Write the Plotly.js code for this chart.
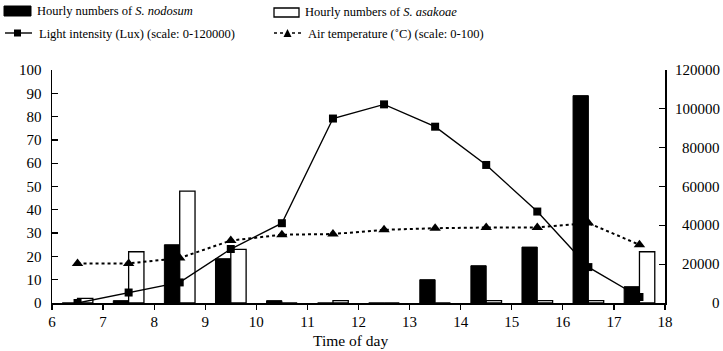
<!DOCTYPE html>
<html>
<head>
<meta charset="utf-8">
<script src="https://cdn.plot.ly/plotly-3.0.1.min.js"></script>
<style>html,body{margin:0;padding:0;background:#fff;}#chart{width:723px;height:351px;}</style>
</head>
<body>
<div id="chart"></div>
<script>
// ---- data ----
const hours = [6.5, 7.5, 8.5, 9.5, 10.5, 11.5, 12.5, 13.5, 14.5, 15.5, 16.5, 17.5];
const nodosum = [0, 1, 25, 19, 1, 0, 0, 10, 16, 24, 89, 7];
const asakoae = [2, 22, 48, 23, 0, 1, 0, 0, 1, 1, 1, 22];
const lightLux = [0, 5400, 10600, 27800, 41100, 95000, 102300, 90800, 71100, 47100, 18500, 3100];
const airTemp = [17, 17, 19.3, 26.8, 29.3, 29.6, 31.4, 32.1, 32.4, 32.4, 34.3, 25];
const xTicks = [6, 7, 8, 9, 10, 11, 12, 13, 14, 15, 16, 17, 18];
const leftTicks = [0, 10, 20, 30, 40, 50, 60, 70, 80, 90, 100];
const rightTicks = [0, 20000, 40000, 60000, 80000, 100000, 120000];
const xTitle = 'Time of day';
const legendLabels = [
  'Hourly numbers of <i>S. nodosum</i>',
  'Hourly numbers of <i>S. asakoae</i>',
  'Light intensity (Lux) (scale: 0-120000)',
  'Air temperature (˚C) (scale: 0-100)'
];

// ---- layout helpers ----
const W = 723, H = 351, ML = 52, MR = 58, MT = 70, MB = 48;
const PW = W - ML - MR, PH = H - MT - MB;
const px = v => (v - ML) / PW;
const py = v => (H - MB - v) / PH;
const FONT = '"Liberation Serif", "Times New Roman", Times, serif';
const TICKSIZE = 15;

const traces = [
  {type: 'bar', x: hours, y: nodosum, name: legendLabels[0],
   marker: {color: '#000', line: {color: '#000', width: 1}}},
  {type: 'bar', x: hours, y: asakoae, name: legendLabels[1],
   marker: {color: '#fff', line: {color: '#000', width: 1.3}}},
  {type: 'scatter', mode: 'lines+markers', x: hours, y: airTemp, name: legendLabels[3],
   line: {color: '#000', width: 2, dash: 'dot'},
   marker: {symbol: 'triangle-up', size: 10, color: '#000'}},
  {type: 'scatter', mode: 'lines+markers', x: hours, y: lightLux, yaxis: 'y2', name: legendLabels[2],
   line: {color: '#000', width: 1.4},
   marker: {symbol: 'square', size: 8, color: '#000'}}
];

// manual legend
const shapes = [
  {type: 'rect', xref: 'paper', yref: 'paper', x0: px(4), x1: px(31), y0: py(16), y1: py(6),
   fillcolor: '#000', line: {color: '#000', width: 1}},
  {type: 'rect', xref: 'paper', yref: 'paper', x0: px(274), x1: px(299), y0: py(17), y1: py(8),
   fillcolor: '#fff', line: {color: '#000', width: 1.3}},
  {type: 'line', xref: 'paper', yref: 'paper', x0: px(5), x1: px(32), y0: py(33), y1: py(33),
   line: {color: '#000', width: 1.4}},
  {type: 'rect', xref: 'paper', yref: 'paper', x0: px(14), x1: px(21), y0: py(36.5), y1: py(29.5),
   fillcolor: '#000', line: {color: '#000', width: 0}},
  {type: 'line', xref: 'paper', yref: 'paper', x0: px(274), x1: px(301), y0: py(33), y1: py(33),
   line: {color: '#000', width: 1.5, dash: 'dot'}},
  {type: 'path', xref: 'paper', yref: 'paper',
   path: `M ${px(283.5)} ${py(37)} L ${px(291.5)} ${py(37)} L ${px(287.5)} ${py(29)} Z`,
   fillcolor: '#000', line: {color: '#000', width: 0}}
];
const legPos = [[35, 11], [303, 12], [37, 34], [306, 34]];
const annotations = legendLabels.map((t, i) => ({
  text: t, xref: 'paper', yref: 'paper', x: px(legPos[i][0]), y: py(legPos[i][1]),
  xanchor: 'left', yanchor: 'middle', showarrow: false,
  font: {family: FONT, size: 12.5, color: '#000'}
}));
// right-axis tick labels, right-aligned as in the reference
rightTicks.forEach(v => annotations.push({
  text: String(v), xref: 'paper', yref: 'y2', x: px(722), y: v,
  xanchor: 'right', yanchor: 'middle', showarrow: false,
  font: {family: FONT, size: TICKSIZE, color: '#000'}
}));
// x-axis title
annotations.push({
  text: xTitle, xref: 'paper', yref: 'paper', x: px(350), y: py(340),
  xanchor: 'center', yanchor: 'middle', showarrow: false,
  font: {family: FONT, size: 15.5, color: '#000'}
});

const axisCommon = {
  showgrid: false, zeroline: false, showline: true, linecolor: '#000', linewidth: 1.5,
  tickwidth: 1.3, tickcolor: '#000', tickfont: {family: FONT, size: TICKSIZE, color: '#000'}
};

const layout = {
  width: W, height: H,
  margin: {l: ML, r: MR, t: MT, b: MB, pad: 0},
  paper_bgcolor: '#fff', plot_bgcolor: '#fff',
  showlegend: false,
  barmode: 'group', bargap: 0.4, bargroupgap: 0,
  font: {family: FONT, size: 14, color: '#000'},
  xaxis: Object.assign({}, axisCommon, {
    range: [6, 18], tickvals: xTicks, ticktext: xTicks.map(String),
    ticks: 'outside', ticklen: 5, ticklabelstandoff: -1
  }),
  yaxis: Object.assign({}, axisCommon, {
    range: [0, 100], tickvals: leftTicks, ticktext: leftTicks.map(String),
    ticks: 'inside', ticklen: 6, ticklabelstandoff: 6
  }),
  yaxis2: Object.assign({}, axisCommon, {
    range: [0, 120000], tickvals: rightTicks, showticklabels: false,
    overlaying: 'y', side: 'right', anchor: 'x',
    ticks: 'inside', ticklen: 6
  }),
  shapes: shapes,
  annotations: annotations
};

Plotly.newPlot('chart', traces, layout, {staticPlot: true, displayModeBar: false});
</script>
</body>
</html>
